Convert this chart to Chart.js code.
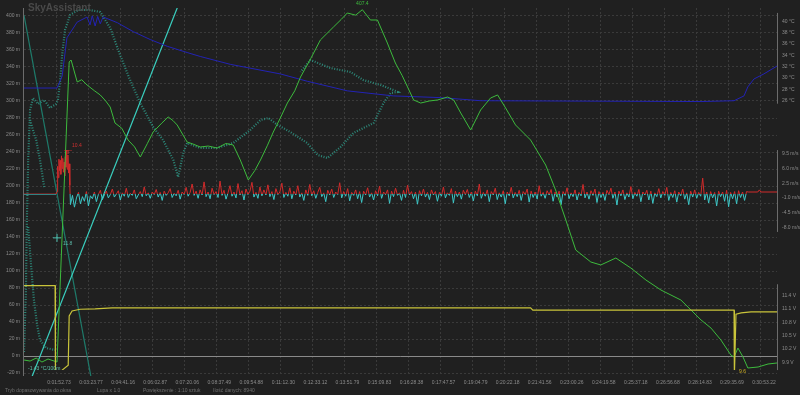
<!DOCTYPE html>
<html>
<head>
<meta charset="utf-8">
<script src="https://cdn.jsdelivr.net/npm/chart.js@4.4.1/dist/chart.umd.min.js"></script>
<style>
html,body{margin:0;padding:0;background:#202020;}
#wrap{width:800px;height:395px;position:relative;}
</style>
</head>
<body>
<div id="wrap"><canvas id="c"></canvas></div>
<script>
// x unit = one time-label step of the bottom axis
let timeTickPos = [1,2,3,4,5,6,7,8,9,10,11,12,13,14,15,16,17,18,19,20,21,22,23]
let timeLabels = ["0:01:52.73","0:03:23.77","0:04:41.16","0:06:02.87","0:07:20.06","0:08:37.49","0:09:54.88","0:11:12.30","0:12:33.12","0:13:51.79","0:15:09.83","0:16:28.38","0:17:47.57","0:19:04.79","0:20:22.18","0:21:41.56","0:23:00.26","0:24:19.58","0:25:37.18","0:26:56.68","0:28:14.83","0:29:35.69","0:30:53.22"]

let altTicks = [-20,0,20,40,60,80,100,120,140,160,180,200,220,240,260,280,300,320,340,360,380,400]
let tempTicks = [26,28,30,32,34,36,38,40]
let speedTicks = [-8,-4.5,-1,2.5,6,9.5]
let voltTicks = [9.9,10.2,10.5,10.8,11.1,11.4]

// barometric altitude (m)
let altX = [0,0.19,0.38,0.56,0.75,0.94,1.03,1.41,1.47,1.66,1.8,1.97,2.2,2.38,2.55,2.69,2.84,3.05,3.25,3.45,3.63,3.85,4.03,4.3,4.5,4.65,4.78,5.09,5.3,5.5,5.75,6.03,6.3,6.53,6.75,7.0,7.2,7.38,7.6,7.78,8.0,8.22,8.45,8.63,8.95,9.25,9.66,9.9,10.09,10.35,10.56,10.81,11.03,11.34,11.59,11.8,11.97,12.16,12.38,12.65,12.91,13.22,13.41,13.63,13.94,14.25,14.56,14.78,15.03,15.34,15.81,16.28,16.59,16.91,17.22,17.69,18.0,18.47,18.94,19.41,19.88,20.5,21.13,21.44,21.75,22.06,22.16,22.28,22.44,22.59,22.91,23.22,23.5]
let altVal = [-4.7,-5.9,-2.4,-7.1,-3.5,-5.9,-7.1,345.9,348.2,322.4,325,318.8,312,307.1,300,292.9,274.1,268,254.1,246,234.1,250,263.5,274,281.2,277,271.8,251.8,249,245.9,247,244.7,250,248.2,230.6,207.1,218,230.6,248,263.5,280,297.6,312,328.2,350,371.8,387.1,396,403.5,401,407.4,395.3,395.3,368.2,344.7,330,316.5,301.2,297.6,300,301.2,304.7,301.2,285.9,265.9,289.4,303.5,307.1,291.8,271.8,254.1,224.7,195.3,160,124.7,110.6,107.1,115.3,103.5,89.4,77.6,65.9,42.4,32.9,18.8,1.2,-1.2,9.4,-1.2,-14.1,-12.9,-9.4,-8.2]

// temperature (°C)
let tempX = [0,1.03,1.19,1.34,1.66,1.97,2.06,2.13,2.22,2.3,2.38,2.47,2.91,3.41,3.94,4.47,5.09,5.5,6.44,8.0,8.84,10.09,11.53,13.0,14.25,21.13,22.16,22.47,22.59,22.78,23.09,23.5]
let tempVal = [28.2,28.2,30.3,37.1,39.9,40.8,39.4,41.0,39.2,40.9,39.6,40.8,39.8,38.2,36.8,35.6,34.5,33.8,32.4,30.7,29.4,27.7,26.8,26.5,25.95,25.8,25.95,26.8,28.4,29.8,30.7,32.1]

// supply voltage (V)
let voltX = [0,0.97,0.98,1.13,1.19,1.38,1.41,1.5,1.75,2.22,2.75,15.81,15.88,22.16,22.17,22.22,22.38,22.69,23.5]
let voltVal = [11.62,11.62,9.68,9.68,9.73,9.84,10.94,11.05,11.09,11.1,11.12,11.12,11.07,11.07,9.6,10.98,11.01,11.03,11.03]

// vertical speed (m/s)
let speedHeadX = [0,1.0,1.03,1.05,1.07,1.09,1.11,1.13,1.15,1.17,1.19,1.21,1.23,1.25,1.27,1.29,1.31,1.33,1.35,1.37,1.39,1.41,1.43]
let speedHeadVal = [-0.1,-0.1,0.5,6.5,3.8,8.2,5.5,7.9,4.6,9.0,6.0,8.4,5.1,7.5,4.2,8.8,6.3,10.4,5.8,9.2,4.9,7.1,2.0]
let speedNoiseStart = 1.45
let speedNoiseEnd = 22.55
let speedNoise = [
-2.6,-0.4,-3.2,-1.0,0.3,-2.4,-0.7,-1.8,0.5,-2.9,-0.5,-1.2,0.4,-1.9,-0.2,0.8,-1.4,-0.3,0.6,-1.0,
-0.2,1.1,-0.8,-0.1,0.7,-1.5,0.2,-0.6,1.3,-0.9,0.1,-0.4,0.9,-1.2,-0.3,0.5,-0.7,1.6,-0.5,0.2,
-1.1,0.4,-0.2,1.0,-0.8,0.3,-1.6,0.6,-0.4,0.2,1.2,-0.9,0.1,-0.5,0.8,-1.3,0.4,-0.2,1.5,-0.6,
0.3,2.3,-0.4,0.6,-1.1,0.9,-0.3,2.8,-0.7,0.4,-1.2,1.3,-0.2,0.5,-0.9,3.0,-0.4,0.8,-1.3,0.2,
1.9,-0.6,0.4,-1.0,2.4,-0.3,0.7,-1.5,1.1,-0.2,0.6,2.7,-0.8,0.3,-1.1,1.6,-0.5,0.9,-0.3,2.1,
-0.7,0.5,-1.4,1.2,-0.2,0.4,2.5,-0.9,0.3,-0.6,1.4,-1.2,0.6,-0.3,1.9,-0.8,0.2,-1.6,0.9,-0.4,
2.2,-0.5,0.7,-1.1,0.3,1.5,-0.7,0.2,-1.9,0.8,-0.3,1.1,-0.9,0.4,-0.2,2.6,-1.0,0.5,-0.6,1.2,
-1.7,0.3,-0.4,0.9,-1.2,0.5,-2.1,0.6,-0.3,1.4,-0.8,0.2,-1.5,0.7,-0.5,1.8,-1.1,0.4,-0.2,0.9,
-2.3,0.6,-0.7,1.3,-0.4,0.2,-1.6,0.8,-0.9,2.0,-0.3,0.5,-1.2,0.4,-2.5,0.7,-0.5,1.1,-0.8,0.3,
-1.4,0.9,-0.3,0.5,-1.8,0.3,-0.6,1.6,-1.0,0.2,-0.4,1.2,-2.2,0.6,-0.7,0.4,-1.3,0.8,-0.2,1.0,
-0.9,0.4,-1.7,0.6,-0.5,2.3,-1.1,0.3,-0.6,0.9,-1.9,0.5,-0.3,1.3,-1.4,0.2,-0.8,0.7,-2.4,0.4,
-0.5,1.5,-1.0,0.3,-0.7,0.8,-1.6,0.5,-0.2,1.1,-2.0,0.6,-0.9,0.4,-1.3,1.9,-0.6,0.3,-1.1,0.7,
-0.3,1.0,-1.8,0.4,-0.8,0.6,-2.6,0.5,-0.4,1.4,-1.2,0.2,-0.7,0.9,-1.5,0.3,-0.5,2.2,-1.0,0.4,
-1.3,0.7,-0.4,1.1,-2.1,0.5,-0.9,0.3,-1.6,0.8,-0.2,1.3,-1.1,0.4,-2.7,0.6,-0.5,0.9,-1.4,0.2,
-0.8,1.7,-1.2,0.3,-0.6,1.0,-1.9,0.4,-0.3,0.8,-1.5,0.6,-2.3,0.2,-0.7,1.2,-1.0,0.5,-0.4,1.5,
-1.6,0.3,-0.9,0.7,-2.0,0.4,-0.5,1.1,-1.3,0.2,-2.6,0.6,-0.8,0.9,-1.1,0.3,-0.6,3.7,-1.5,0.4,
-2.2,0.5,-1.0,0.3,-2.9,0.6,-0.7,0.4,-1.8,0.8,-3.1,0.3,-1.2,0.5,-2.4,0.7,-0.9,0.4,-1.6,0.5]
let speedTailX = [22.6,22.9,22.95,23.0,23.5]
let speedTailVal = [0.4,0.4,0.9,0.4,0.4]

// altitude / temperature profile (m), null = break
let profX = [0,0.06,0.09,0.13,0.19,0.28,0.44,0.63,0.81,1.0,1.06,1.13,1.19,1.28,1.44,1.69,2.06,2.38,2.69,3.0,3.31,3.63,4.03,4.34,4.66,4.81,4.97,5.09,5.5,6.03,6.53,7.06,7.38,7.63,7.91,8.31,8.84,9.16,9.47,9.88,10.28,10.91,11.22,11.44,11.66,11.53,11.13,10.59,10.19,9.56,8.94,8.63,null,0.19,0.28,0.38,0.5,0.63,null,0.13,0.22,0.31,0.41,0.5,0.69,0.97]
let profAlt = [4.7,77.6,160,230.6,289.4,303.5,296.5,301.2,291.8,296.5,301.2,324.7,354.1,383.5,401.2,407.1,407,404.7,385.9,354.1,324.7,297.6,269.4,254.1,230.6,210.6,238.8,250.6,244.7,244.7,250.6,265.9,277.6,280,271.8,263.5,250.6,236.5,232.9,245.9,262.4,274.1,297.6,309.4,310.6,312.9,318.8,324.7,334.1,338.8,348.2,334.1,null,277.6,265.9,254.1,230.6,198.8,null,151.8,107,65.9,36.5,18.8,9.4,7.1]

// lapse-rate reference lines (m)
let lapseAX = [0.2,4.85]
let lapseAAlt = [-29,416]
let lapseBX = [0,2.22]
let lapseBAlt = [401,-51]

// marked extremes
let maxAlt = {x:10.56, y:407.4}
let maxSpeed = {x:1.375, y:10.4}
let markGreen = {x:1.03, y:139}
let minVolt = {x:22.16, y:9.6}

function pts(xs, ys){ return xs.map((x,i)=>({x: x, y: ys[i]})) }

let noiseStep = (speedNoiseEnd - speedNoiseStart)/(speedNoise.length - 1)
let speedData = pts(speedHeadX, speedHeadVal)
  .concat(speedNoise.map((v,i)=>({x: speedNoiseStart + i*noiseStep, y: v})))
  .concat(pts(speedTailX, speedTailVal))

function speedColor(ctx){
  let chart = ctx.chart
  let area = chart.chartArea
  if(!area) return "#d02a2a"
  let p = chart.scales.yS.getPixelForValue(0)
  let f = Math.min(1, Math.max(0, (p - area.top)/(area.bottom - area.top)))
  let g = chart.ctx.createLinearGradient(0, area.top, 0, area.bottom)
  g.addColorStop(0, "#d02a2a")
  g.addColorStop(f, "#d02a2a")
  g.addColorStop(f, "#3cc6c6")
  g.addColorStop(1, "#3cc6c6")
  return g
}

let tickFont = {family:"'Liberation Sans', Arial, sans-serif", size:5}

function fixedTicks(arr){
  return function(scale){ scale.ticks = arr.map(v=>({value:v})) }
}

let decor = {
  id:"decor",
  beforeDatasetsDraw(chart){
    let {ctx, chartArea, scales} = chart
    ctx.save()
    ctx.lineWidth = 1
    ctx.strokeStyle = "#8a8a8a"
    let z = Math.round(scales.y.getPixelForValue(0)) + 0.5
    ctx.beginPath(); ctx.moveTo(chartArea.left, z); ctx.lineTo(chartArea.right, z); ctx.stroke()
    ctx.strokeStyle = "#6c6c6c"
    ctx.beginPath(); ctx.moveTo(chartArea.left - 0.5, chartArea.top); ctx.lineTo(chartArea.left - 0.5, chartArea.bottom); ctx.stroke()
    for(let id of ["yT","yS","yV"]){
      let s = scales[id]
      ctx.beginPath(); ctx.moveTo(s.left + 0.5, s.top); ctx.lineTo(s.left + 0.5, s.bottom); ctx.stroke()
    }
    ctx.restore()
  },
  afterDatasetsDraw(chart){
    let {ctx, chartArea, scales} = chart
    let x = scales.x
    ctx.save()
    ctx.font = "5px 'Liberation Sans', Arial, sans-serif"
    ctx.textBaseline = "middle"
    ctx.fillStyle = "#3dbb3d"; ctx.textAlign = "center"
    ctx.fillText("407.4", x.getPixelForValue(maxAlt.x), scales.y.getPixelForValue(maxAlt.y) - 6)
    ctx.textAlign = "left"
    ctx.fillStyle = "#d03030"
    ctx.fillText("10.4", x.getPixelForValue(maxSpeed.x) + 4, scales.yS.getPixelForValue(maxSpeed.y) - 4)
    ctx.fillStyle = "#5cb8a8"
    ctx.fillText("11.8", x.getPixelForValue(markGreen.x) + 6, scales.y.getPixelForValue(markGreen.y) + 6)
    ctx.fillStyle = "#d0b020"
    ctx.fillText("9.6", x.getPixelForValue(minVolt.x) + 5, scales.yV.getPixelForValue(minVolt.y) - 4)
    ctx.fillStyle = "#5cc0a8"
    ctx.fillText("-1.43 °C/100m", chartArea.left + 4, scales.y.getPixelForValue(-15))
    ctx.font = "bold 10px 'Liberation Sans', Arial, sans-serif"
    ctx.fillStyle = "#4a4a4a"
    ctx.fillText("SkyAssistant", chartArea.left + 4, 8)
    ctx.font = "5px 'Liberation Sans', Arial, sans-serif"
    ctx.fillStyle = "#6e6e6e"
    ctx.fillText("Tryb dopasowywania do okna", 5, 391)
    ctx.fillText("Lupa x 1.0", 97, 391)
    ctx.fillText("Powiększenie : 1:10 sztuk", 143, 391)
    ctx.fillText("Ilość danych: 8940", 213, 391)
    ctx.restore()
  }
}

function cross(point, axis, color, order){
  return {data:[point], yAxisID:axis, showLine:false, pointStyle:"cross", pointRadius:4,
    pointBorderColor:color, pointBorderWidth:1, order:order}
}

function rightAxis(weight, min, max, ticks, fmt){
  return {
    type:"linear", position:"right", stack:"r", stackWeight:weight, min:min, max:max,
    afterBuildTicks:fixedTicks(ticks),
    afterFit:function(s){ s.width = 23 },
    ticks:{callback:fmt, font:tickFont, color:"#8c8c8c", padding:5, autoSkip:false},
    grid:{display:false, drawTicks:false, tickLength:0}, border:{display:false}
  }
}

new Chart(document.getElementById("c"),{
  type:"line",
  data:{
    datasets:[
      cross(maxSpeed, "yS", "#d03030", 0),
      cross(markGreen, "y", "#4cc0b0", 0),
      cross(minVolt, "yV", "#c8c040", 0),
      {data:pts(voltX, voltVal), yAxisID:"yV", borderColor:"#c9c43a", borderWidth:1.2, pointRadius:0, order:1},
      {data:pts(altX, altVal), yAxisID:"y", borderColor:"#3dbb3d", borderWidth:1, pointRadius:0, order:2},
      {data:pts(tempX, tempVal), yAxisID:"yT", borderColor:"#2323b4", borderWidth:1, pointRadius:0, order:3},
      {data:speedData, yAxisID:"yS", borderColor:speedColor, borderWidth:1, pointRadius:0, order:4},
      {data:pts(profX, profAlt), yAxisID:"y", borderColor:"rgba(48,170,150,0.75)", borderWidth:2.2, borderDash:[1,1.6], pointRadius:0, spanGaps:false, order:5},
      {data:pts(lapseAX, lapseAAlt), yAxisID:"y", borderColor:"#3ad0c0", borderWidth:1.2, pointRadius:0, order:6},
      {data:pts(lapseBX, lapseBAlt), yAxisID:"y", borderColor:"#1e7a6a", borderWidth:1.2, pointRadius:0, order:6}
    ]
  },
  options:{
    responsive:true,
    maintainAspectRatio:false,
    animation:false,
    layout:{padding:{top:8, left:0, right:0, bottom:0}},
    plugins:{legend:{display:false}, tooltip:{enabled:false}},
    scales:{
      x:{
        type:"linear", min:0, max:23.5,
        afterBuildTicks:fixedTicks(timeTickPos),
        afterFit:function(s){ s.height = 19 },
        ticks:{callback:(v,i)=>timeLabels[i], font:tickFont, color:"#8c8c8c", maxRotation:0, autoSkip:false, padding:4, labelOffset:3},
        grid:{color:"#3a3a3a", drawTicks:false},
        border:{display:false, dash:[2,2]}
      },
      y:{
        type:"linear", position:"left", min:-23.5, max:409.4,
        afterBuildTicks:fixedTicks(altTicks),
        afterFit:function(s){ s.width = 24 },
        ticks:{callback:v=>v+" m", font:tickFont, color:"#8c8c8c", padding:4, autoSkip:false},
        grid:{color:"#3a3a3a", drawTicks:false},
        border:{display:false, dash:[2,2]}
      },
      sp0:{type:"linear", position:"right", stack:"r", stackWeight:5, display:false},
      yT:rightAxis(92, 25.42, 41.52, tempTicks, v=>v+" °C"),
      sp1:{type:"linear", position:"right", stack:"r", stackWeight:47, display:false},
      yS:rightAxis(83, -9.1, 10.37, speedTicks, v=>v.toFixed(1)+" m/s"),
      sp2:{type:"linear", position:"right", stack:"r", stackWeight:53, display:false},
      yV:rightAxis(87, 9.73, 11.649, voltTicks, v=>v.toFixed(1)+" V"),
      sp3:{type:"linear", position:"right", stack:"r", stackWeight:6, display:false}
    }
  },
  plugins:[decor]
})
</script>
</body>
</html>
